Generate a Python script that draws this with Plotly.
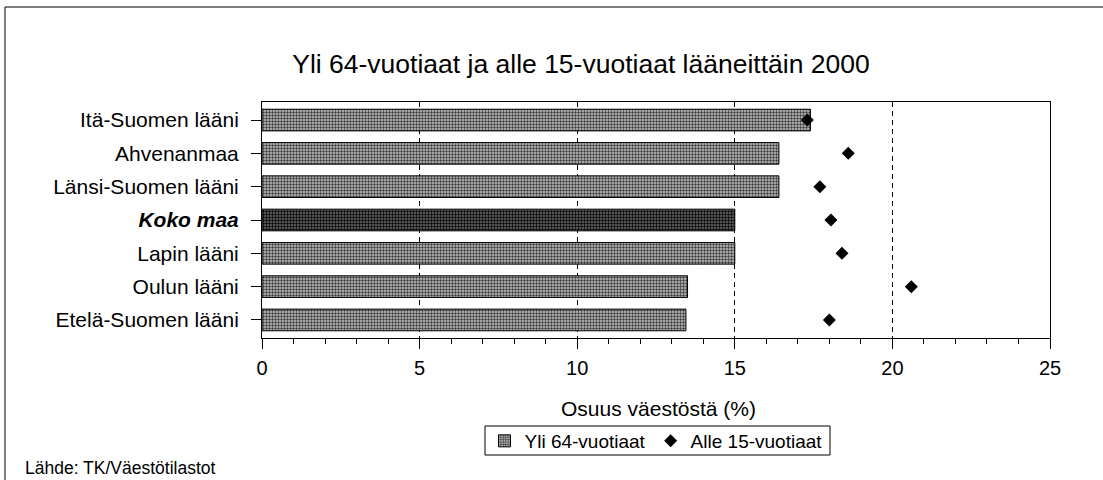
import plotly.graph_objects as go

# Regions, listed top to bottom as they appear on the chart
regions = [
    "Itä-Suomen lääni",
    "Ahvenanmaa",
    "Länsi-Suomen lääni",
    "Koko maa",
    "Lapin lääni",
    "Oulun lääni",
    "Etelä-Suomen lääni",
]
# Share of population (%)
over_64 = [17.4, 16.4, 16.4, 15.0, 15.0, 13.5, 13.45]
under_15 = [17.3, 18.6, 17.7, 18.05, 18.4, 20.6, 18.0]

region_labels = ["<b><i>Koko maa</i></b>" if r == "Koko maa" else r for r in regions]
x_ticks = [0, 5, 10, 15, 20, 25]

W, H = 1103, 480
L, R, T, B = 262, 1050, 102, 338  # plot-area edges in pixels


def px_x(px):
    return (px - L) / (R - L)


def px_y(py):
    return (B - py) / (B - T)


FONT = "Liberation Sans, Arial, sans-serif"

# Whole country highlighted with a darker halftone
fg = ["#000000" if r == "Koko maa" else "#3c3c3c" for r in regions]
bg = ["#6e6e6e" if r == "Koko maa" else "#c4c4c4" for r in regions]

fig = go.Figure()
fig.add_trace(go.Bar(
    y=regions,
    x=over_64,
    orientation="h",
    name="Yli 64-vuotiaat",
    width=0.65,
    marker=dict(
        color="#a0a0a0",
        line=dict(color="black", width=1),
        pattern=dict(shape=".", fgcolor=fg, bgcolor=bg, size=3, solidity=0.5, fillmode="replace"),
    ),
))
fig.add_trace(go.Scatter(
    y=regions,
    x=under_15,
    mode="markers",
    name="Alle 15-vuotiaat",
    marker=dict(symbol="diamond", size=10, color="black"),
))

fig.update_layout(
    width=W,
    height=H,
    autosize=False,
    margin=dict(l=L, r=W - R, t=T, b=H - B, pad=0, autoexpand=False),
    paper_bgcolor="white",
    plot_bgcolor="white",
    font=dict(family=FONT, color="black", size=20),
    title=dict(
        text="Yli 64-vuotiaat ja alle 15-vuotiaat lääneittäin 2000",
        x=581 / W, xanchor="center",
        y=1 - 64 / H, yanchor="middle", yref="container",
        font=dict(family=FONT, size=26.5, color="black"),
    ),
    showlegend=True,
    legend=dict(
        orientation="h",
        x=px_x(656), xanchor="center",
        y=px_y(441), yanchor="middle",
        borderwidth=0,
        bgcolor="rgba(0,0,0,0)",
        font=dict(family=FONT, size=19, color="black"),
        itemwidth=30,
    ),
    xaxis=dict(
        range=[0, 25],
        tickvals=x_ticks,
        ticks="outside", ticklen=10, tickcolor="black", tickwidth=1,
        ticklabelstandoff=2,
        minor=dict(dtick=1, ticks="outside", ticklen=5, tickcolor="black", showgrid=False),
        showgrid=True, gridcolor="black", gridwidth=1, griddash="5px,4px",
        showline=True, linecolor="black", linewidth=1, mirror=True,
        zeroline=False,
        tickfont=dict(family=FONT, size=20, color="black"),
        fixedrange=True,
    ),
    yaxis=dict(
        categoryorder="array",
        categoryarray=regions,
        autorange="reversed",
        tickvals=regions,
        ticktext=region_labels,
        ticks="outside", ticklen=10, tickcolor="black", tickwidth=1,
        ticklabelstandoff=8,
        showgrid=False,
        showline=True, linecolor="black", linewidth=1, mirror=True,
        tickfont=dict(family=FONT, size=21, color="black"),
        fixedrange=True,
    ),
    annotations=[
        dict(
            text="Osuus väestöstä (%)",
            xref="paper", yref="paper",
            x=px_x(658), y=px_y(408),
            xanchor="center", yanchor="middle",
            showarrow=False,
            font=dict(family=FONT, size=21, color="black"),
        ),
        dict(
            text="Lähde: TK/Väestötilastot",
            xref="paper", yref="paper",
            x=px_x(23), y=px_y(468),
            xanchor="left", yanchor="middle",
            showarrow=False,
            font=dict(family=FONT, size=17.5, color="black"),
        ),
    ],
    shapes=[
        # frame around the chart area (top and left edges)
        dict(type="line", xref="paper", yref="paper",
             x0=px_x(5), x1=px_x(W + 5), y0=px_y(7), y1=px_y(7),
             line=dict(color="black", width=1)),
        dict(type="line", xref="paper", yref="paper",
             x0=px_x(5), x1=px_x(5), y0=px_y(7), y1=px_y(H + 5),
             line=dict(color="black", width=1)),
        # legend box
        dict(type="rect", xref="paper", yref="paper",
             x0=px_x(485), x1=px_x(830), y0=px_y(426), y1=px_y(455),
             line=dict(color="black", width=1), fillcolor="rgba(0,0,0,0)"),
    ],
)

fig.write_html("out.html")
